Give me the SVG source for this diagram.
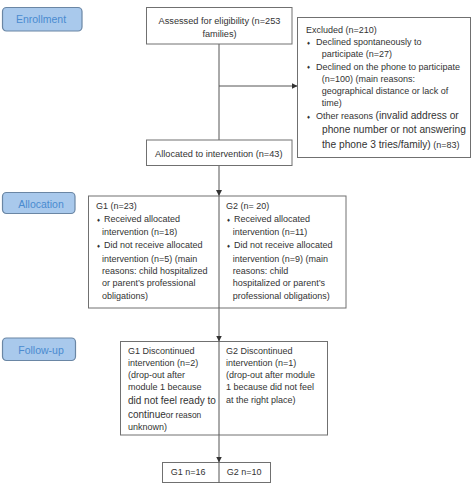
<svg xmlns="http://www.w3.org/2000/svg" width="472" height="487" viewBox="0 0 472 487">
<defs>
<style>
text{font-family:"Liberation Sans",Arial,sans-serif;fill:#333;font-size:9px}
.box{fill:#fff;stroke:#707070;stroke-width:1}
.badge{fill:#a9c9ec;stroke:#6a86a4;stroke-width:1.2}
.bt{fill:#4a8bd0;font-size:10.5px;text-anchor:middle}
.c{text-anchor:middle;font-size:9.2px}
.big{font-size:10.2px}
.bul{font-size:6px}
.ln{stroke:#555;stroke-width:1;fill:none}
.div{stroke:#555;stroke-width:1}
</style>
<marker id="ah" markerUnits="userSpaceOnUse" markerWidth="7" markerHeight="7" refX="6" refY="3" orient="auto">
<path d="M0,0 L6,3 L0,6 Z" fill="#333"/>
</marker>
</defs>
<rect width="472" height="487" fill="#fff"/>

<g id="badge-enrollment">
<rect class="badge" x="2.5" y="7.5" width="79.5" height="23.5" rx="4"/>
<text class="bt" x="41" y="23">Enrollment</text>
</g>
<g id="badge-allocation">
<rect class="badge" x="2.5" y="192.5" width="72.5" height="21" rx="4"/>
<text class="bt" x="41" y="208">Allocation</text>
</g>
<g id="badge-followup">
<rect class="badge" x="2.5" y="338" width="73" height="22.5" rx="4"/>
<text class="bt" x="41" y="354">Follow-up</text>
</g>

<g id="connectors">
<line class="ln" x1="219" y1="44" x2="219" y2="140"/>
<line class="ln" x1="219" y1="86" x2="297.5" y2="86" marker-end="url(#ah)"/>
<line class="ln" x1="219" y1="165.5" x2="219" y2="196" marker-end="url(#ah)"/>
<line class="ln" x1="219" y1="308" x2="219" y2="341.5" marker-end="url(#ah)"/>
<line class="ln" x1="219" y1="435" x2="219" y2="462.5" marker-end="url(#ah)"/>
</g>

<g id="assessed">
<rect class="box" x="146.5" y="7.5" width="145.5" height="36.5"/>
<text class="c" x="219.5" y="24">Assessed for eligibility (n=253</text>
<text class="c" x="219.5" y="36.5">families)</text>
</g>

<g id="excluded">
<rect class="box" x="297.5" y="17.5" width="173" height="140"/>
<text x="306" y="33">Excluded (n=210)</text>
<text class="bul" x="307" y="44.5">♦</text>
<text x="316" y="45.3">Declined spontaneously to</text>
<text x="321.7" y="57">participate (n=27)</text>
<text class="bul" x="307" y="69">♦</text>
<text x="316" y="69.7">Declined on the phone to participate</text>
<text x="321.7" y="82">(n=100) (main reasons:</text>
<text x="321.7" y="94">geographical distance or lack of</text>
<text x="321.7" y="106.3">time)</text>
<text class="bul" x="307" y="118.5">♦</text>
<text x="316" y="119.3">Other reasons <tspan class="big">(invalid address or</tspan></text>
<text class="big" x="322" y="132.8">phone number or not answering</text>
<text x="322" y="147.5"><tspan class="big">the phone 3 tries/family)</tspan> (n=83)</text>
</g>

<g id="allocated">
<rect class="box" x="146.5" y="140" width="145.5" height="25.5"/>
<text class="c" x="218.8" y="156.5">Allocated to intervention (n=43)</text>
</g>

<g id="groups">
<rect class="box" x="88.5" y="196" width="257.5" height="112"/>
<line class="div" x1="219" y1="196" x2="219" y2="308"/>
<text x="96" y="208.7">G1 (n=23)</text>
<text class="bul" x="97" y="221.5">♦</text>
<text x="104" y="222">Received allocated</text>
<text x="102" y="235">intervention (n=18)</text>
<text class="bul" x="97" y="248">♦</text>
<text x="104" y="248.3">Did not receive allocated</text>
<text x="102" y="261.7">intervention (n=5) (main</text>
<text x="102" y="273.7">reasons: child hospitalized</text>
<text x="102" y="286.3">or parent’s professional</text>
<text x="102" y="298.7">obligations)</text>
<text x="226" y="208.7">G2 (n= 20)</text>
<text class="bul" x="227" y="221.5">♦</text>
<text x="234" y="222">Received allocated</text>
<text x="232.7" y="235">intervention (n=11)</text>
<text class="bul" x="227" y="248">♦</text>
<text x="234" y="248.3">Did not receive allocated</text>
<text x="232.7" y="261.7">intervention (n=9) (main</text>
<text x="232.7" y="273.7">reasons: child</text>
<text x="232.7" y="286.3">hospitalized or parent’s</text>
<text x="232.7" y="298.7">professional obligations)</text>
</g>

<g id="discontinued">
<rect class="box" x="120.5" y="341.5" width="207" height="93.5"/>
<line class="div" x1="219" y1="341.5" x2="219" y2="435"/>
<text x="128" y="353.7">G1 Discontinued</text>
<text x="128" y="366.3">intervention (n=2)</text>
<text x="128" y="378.3">(drop-out after</text>
<text x="128" y="390.3">module 1 because</text>
<text x="128" y="403.5" style="font-size:10px">did not feel ready to</text>
<text x="128" y="417.8"><tspan style="font-size:10px">continue</tspan><tspan style="font-size:8.4px">or reason</tspan></text>
<text x="128" y="429.7">unknown)</text>
<text x="226" y="353.7">G2 Discontinued</text>
<text x="226" y="366.3">intervention (n=1)</text>
<text x="226" y="378.3">(drop-out after module</text>
<text x="226" y="390.3">1 because did not feel</text>
<text x="226" y="403">at the right place)</text>
</g>

<g id="final">
<rect class="box" x="162.5" y="462.5" width="108" height="20"/>
<line class="div" x1="219" y1="462.5" x2="219" y2="482.5"/>
<text x="170.7" y="475.3">G1 n=16</text>
<text x="226.7" y="475.3">G2 n=10</text>
</g>
</svg>
